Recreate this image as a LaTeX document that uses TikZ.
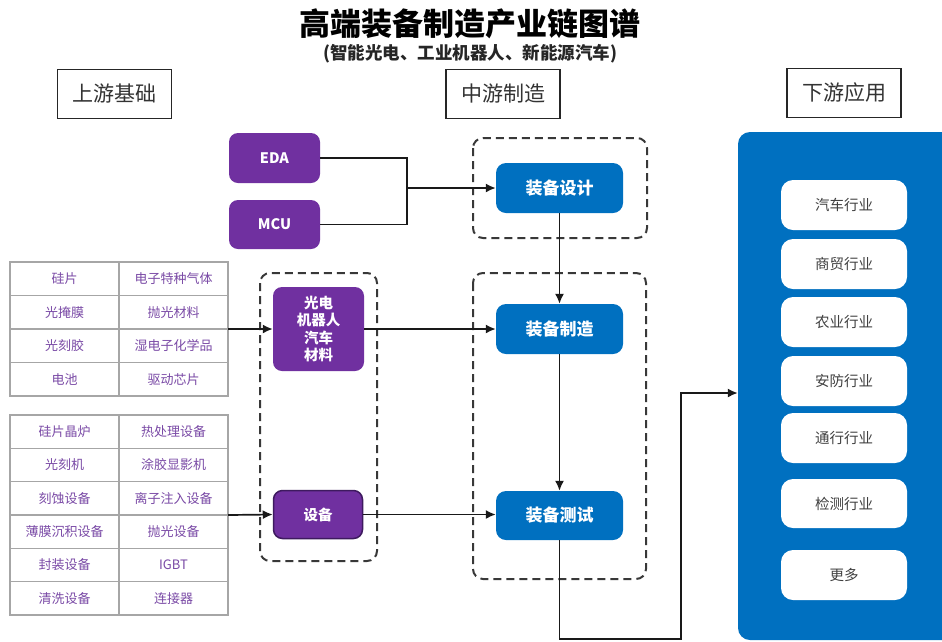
\documentclass[tikz,border=0pt]{standalone}
\usepackage{fontspec}
\setmainfont{Noto Sans CJK SC}
\usetikzlibrary{arrows.meta}
\definecolor{plum}{HTML}{7030A0}
\definecolor{plumdark}{HTML}{3E1A5F}
\definecolor{celltext}{HTML}{7A4AA6}
\definecolor{azure}{HTML}{0070C0}
\tikzset{
	head/.style={draw=black!85, line width=1.6pt, minimum width=114pt, minimum height=49pt, text=black!80, font=\fontsize{21}{21}\selectfont},
	cell/.style={draw=black!35, line width=1.5pt, minimum width=109pt, minimum height=33.4pt, inner sep=0pt, text=celltext, font=\fontsize{13}{13}\selectfont},
	src/.style={fill=plum, rounded corners=9pt, minimum width=91pt, inner sep=0pt, align=center, text=white, font=\bfseries\fontsize{14.5}{17.5}\selectfont},
	stage/.style={fill=azure, rounded corners=10pt, minimum width=127pt, minimum height=50pt, text=white, font=\bfseries\fontsize{17}{17}\selectfont},
	group/.style={draw=black!78, line width=2pt, dash pattern=on 8pt off 5pt, rounded corners=10pt},
	use/.style={fill=white, rounded corners=12pt, minimum width=126pt, minimum height=50pt, text=black!75, font=\fontsize{14.5}{14.5}\selectfont},
	wire/.style={line width=1.7pt, black!90},
	arr/.style={wire, -{Latex[length=10pt,width=9pt]}},
}

\begin{document}
\begin{tikzpicture}[x=1pt, y=-1pt]
			%%%%% START %%%%%
			\useasboundingbox (0,0) rectangle (942,641);
			\fill[white] (0,0) rectangle (942,641);
			
			\node[font=\bfseries\fontsize{31}{31}\selectfont] (title) at (470,24) {高端装备制造产业链图谱};
			\node[font=\bfseries\fontsize{17.5}{17.5}\selectfont, text=black!85] (subtitle) at (470,54) {(智能光电、工业机器人、新能源汽车)};
			
			\node[head] (up) at (114.5,94) {上游基础};
			\node[head] (mid) at (503,94) {中游制造};
			\node[head] (down) at (844,93) {下游应用};
			
			% upstream tables
			\foreach \a/\b [count=\i] in {硅片/电子特种气体, 光掩膜/抛光材料, 光刻胶/湿电子化学品, 电池/驱动芯片}{
				\node[cell] (ma\i) at (64.5,{262+33.5*\i-16.75}) {\a};
				\node[cell] (mb\i) at (173.5,{262+33.5*\i-16.75}) {\b};
			}
			\foreach \a/\b [count=\i] in {硅片晶炉/热处理设备, 光刻机/涂胶显影机, 刻蚀设备/离子注入设备, 薄膜沉积设备/抛光设备, 封装设备/IGBT, 清洗设备/连接器}{
				\node[cell] (ea\i) at (64.5,{415+33.33*\i-16.67}) {\a};
				\node[cell] (eb\i) at (173.5,{415+33.33*\i-16.67}) {\b};
			}
			\coordinate (mattab) at (228,329);
			\coordinate (eqtab) at (228,515);
			
			\node[src, minimum height=50pt] (eda) at (274.5,158) {EDA};
			\node[src, minimum height=49pt] (mcu) at (274.5,224.5) {MCU};
			\node[src, minimum height=84pt] (mat) at (318.5,329) {光电\\机器人\\汽车\\材料};
			\node[src, minimum height=48pt, minimum width=89pt, draw=plumdark, line width=1.5pt] (equip) at (318,514.5) {设备};
			\draw[group] (260,273) rectangle (377,561);
			
			% midstream
			\draw[group] (473,138) rectangle (647,238);
			\draw[group] (473,273) rectangle (646,579);
			\node[stage] (design) at (559.5,188) {装备设计};
			\node[stage] (make) at (559.5,329) {装备制造};
			\node[stage, minimum height=49pt] (test) at (559.5,515.5) {装备测试};
			
			% downstream
			\node[fill=azure, rounded corners=12pt, minimum width=224pt, minimum height=508pt, inner sep=0pt] (apps) at (850,386) {};
			\node[use] (car) at (844,205) {汽车行业};
			\node[use] (trade) at (844,264) {商贸行业};
			\node[use] (farm) at (844,322) {农业行业};
			\node[use] (guard) at (844,381) {安防行业};
			\node[use] (comm) at (844,438) {通行行业};
			\node[use, minimum height=49pt] (check) at (844,503.5) {检测行业};
			\node[use] (more) at (844,575) {更多};
			
			% connectors
			\coordinate (join) at (407,188);
			\draw[wire] (eda.east) -| (join) |- (mcu.east);
			\draw[arr] (join) -- (design.west);
			\draw[arr] (mattab) -- (mat.west);
			\draw[arr] (eqtab) -- (equip.west);
			\draw[arr] (mat.east) -- (mat.east -| make.west);
			\draw[arr] (equip.east) -- (equip.east -| test.west);
			\draw[arr] (design.south) -- (make.north);
			\draw[arr] (make.south) -- (test.north);
			\coordinate (turn) at (681,639);
			\draw[arr] (test.south) |- (turn) |- ([yshift=-7pt]apps.west);
			
			%%%%% END %%%%%
\end{tikzpicture}
\end{document}
